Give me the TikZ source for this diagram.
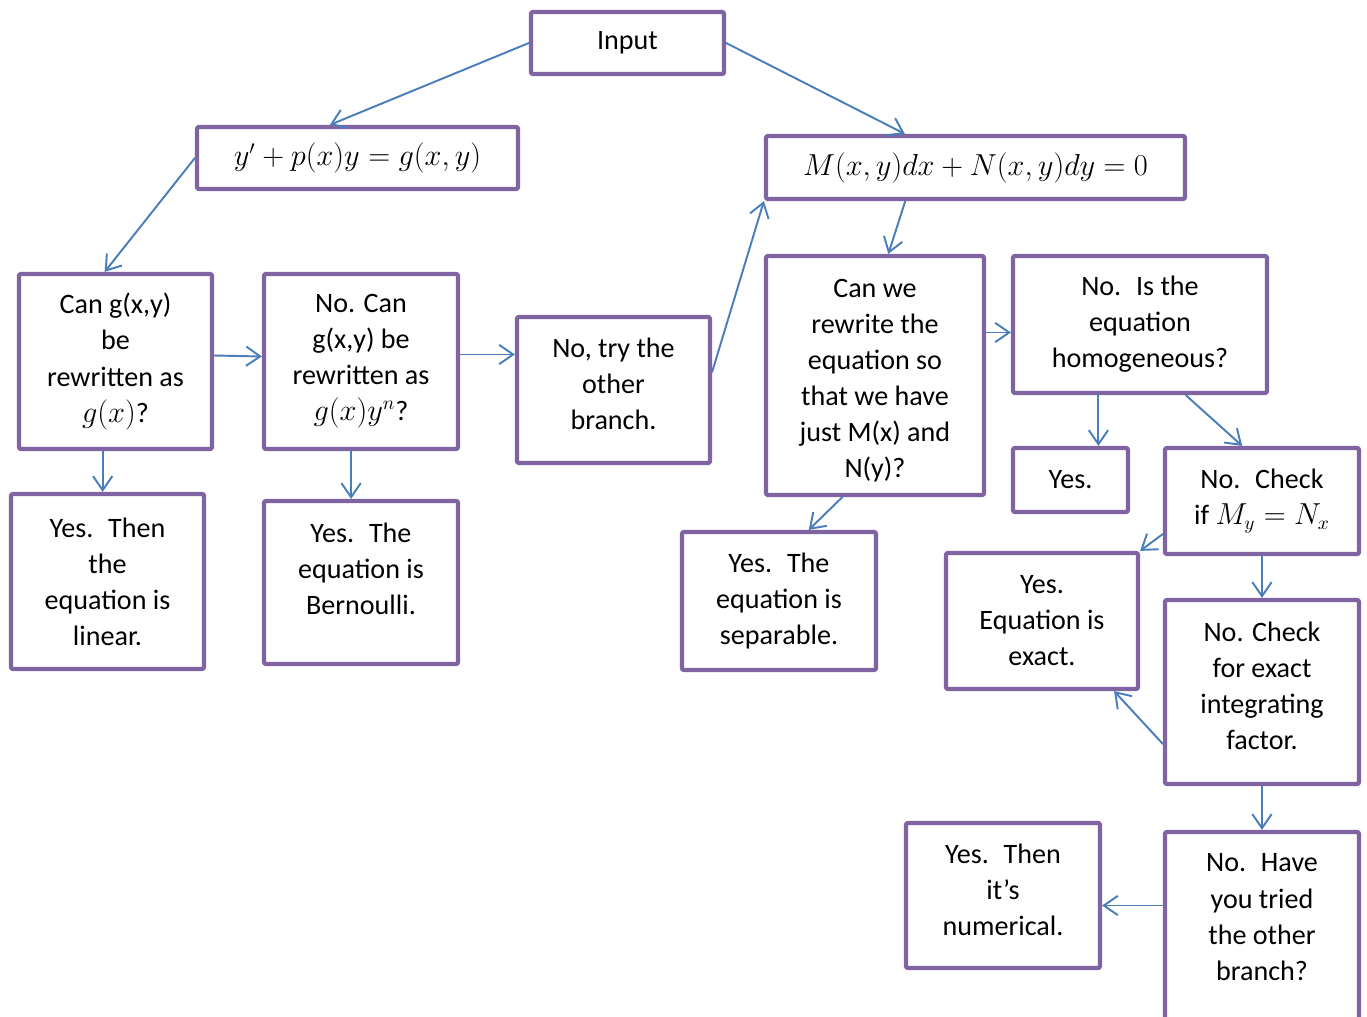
\documentclass[tikz,border=0pt]{standalone}
\usepackage{fontspec}
\setmainfont{Carlito}
\usepackage{tikz}
\usetikzlibrary{arrows.meta,calc}
\definecolor{boxpurple}{HTML}{8064A2}
\definecolor{arrblue}{HTML}{4A7EBB}
\tikzset{
	box/.style={draw=boxpurple, line width=2.4pt, rounded corners=0.8pt, fill=white, align=center, inner sep=2pt},
	arr/.style={draw=arrblue, line width=1.1pt, -{Straight Barb[length=8pt,width=11pt]}}
}
\begin{document}
\begin{tikzpicture}[x=0.02cm, y=-0.02cm, font=\fontsize{16}{20.5}\selectfont, line join=round, line cap=round]
				\useasboundingbox (0,0) rectangle (1367,1017);
				\clip (0,0) rectangle (1367,1017);
				% boxes: name/x/y/width/height/text (pixel units)
				\foreach \n/\x/\y/\w/\h/\t in {
					input/627.5/43/193/62/{Input},
					lin/357.5/158/321/62/{$y'+p(x)y=g(x,y)$},
					mdn/975.5/167.5/419/63/{$M(x,y)dx+N(x,y)dy=0$},
					gx/115.5/361.5/193/175/{Can g(x,y)\\be\\rewritten as\\$g(x)$?},
					gxy/361/361.5/194/175/{No. Can\\g(x,y) be\\rewritten as\\$g(x)y^n$?},
					other/613.5/390/193/146/{No, try the\\other\\branch.\\[-13pt]~},
					sep/875/375.5/218/239/{~\\[-4pt]Can we\\rewrite the\\equation so\\that we have\\just M(x) and\\N(y)?},
					homog/1140/324.5/254/137/{No.~ Is the\\equation\\homogeneous?},
					linear/107.5/581.5/193/175/{Yes.~ Then\\the\\equation is\\linear.},
					bern/361/582.5/194/163/{Yes.~ The\\equation is\\Bernoulli.\\[-4.5pt]~},
					separable/779/601/194/138/{Yes.~ The\\equation is\\separable.},
					yes/1070.5/480/115/64/{Yes.},
					check/1262/501/194/106/{No.~ Check\\if $M_y=N_x$},
					exact/1042/621/192/136/{Yes.\\Equation is\\exact.},
					intf/1262/692/194/184/{No. Check\\for exact\\integrating\\factor.\\[-13pt]~},
					numer/1003/895.5/194/145/{Yes.~ Then\\it’s\\numerical.\\[-14pt]~},
					tried/1262/935/194/206/{No.~ Have\\you tried\\the other\\branch?\\~}}
				\node[box, minimum width={\w*0.02cm}, minimum height={\h*0.02cm}] (\n) at (\x,\y) {\t};
				% connectors
				\draw[arr] (input.west) -- ($(lin.north west)!0.415!(lin.north east)$);
				\draw[arr] (input.east) -- ($(mdn.north west)!0.333!(mdn.north east)$);
				\draw[arr] (lin.west) -- ($(gx.north west)!0.445!(gx.north east)$);
				\draw[arr] ($(gx.east)+(0,-6)$) -- ($(gxy.west)+(0,-5)$);
				\draw[arr] ($(gx.south west)!0.435!(gx.south east)$) coordinate (g1) -- (g1|-linear.north);
				\draw[arr] ($(gxy.east)+(0,-7)$) -- ($(gxy.east-|other.west)+(0,-7)$);
				\draw[arr] ($(gxy.south west)!0.45!(gxy.south east)$) coordinate (g2) -- (g2|-bern.north);
				\draw[arr] ($(other.east)+(0,-18)$) -- (mdn.south west);
				\draw[arr] ($(mdn.south west)!0.334!(mdn.south east)$) -- ($(sep.north west)!0.56!(sep.north east)$);
				\draw[arr] ($(homog.west-|sep.east)+(0,8)$) -- ($(homog.west)+(0,8)$);
				\draw[arr] ($(sep.south west)!0.353!(sep.south east)$) -- ($(separable.north west)!0.65!(separable.north east)$);
				\draw[arr] ($(homog.south west)!0.339!(homog.south east)$) coordinate (h1) -- (h1|-yes.north);
				\draw[arr] ($(homog.south west)!0.677!(homog.south east)$) -- ($(check.north west)!0.4!(check.north east)$);
				\draw[arr] ($(check.west)+(0,33)$) -- (exact.north east);
				\draw[arr] (check.south) -- (intf.north);
				\draw[arr] ($(intf.west)+(0,52)$) -- ($(exact.south east)+(-26,0)$);
				\draw[arr] (intf.south) -- (tried.north);
				\draw[arr] ($(numer.east-|tried.west)+(0,10)$) -- ($(numer.east)+(0,10)$);
		\end{tikzpicture}
\end{document}
